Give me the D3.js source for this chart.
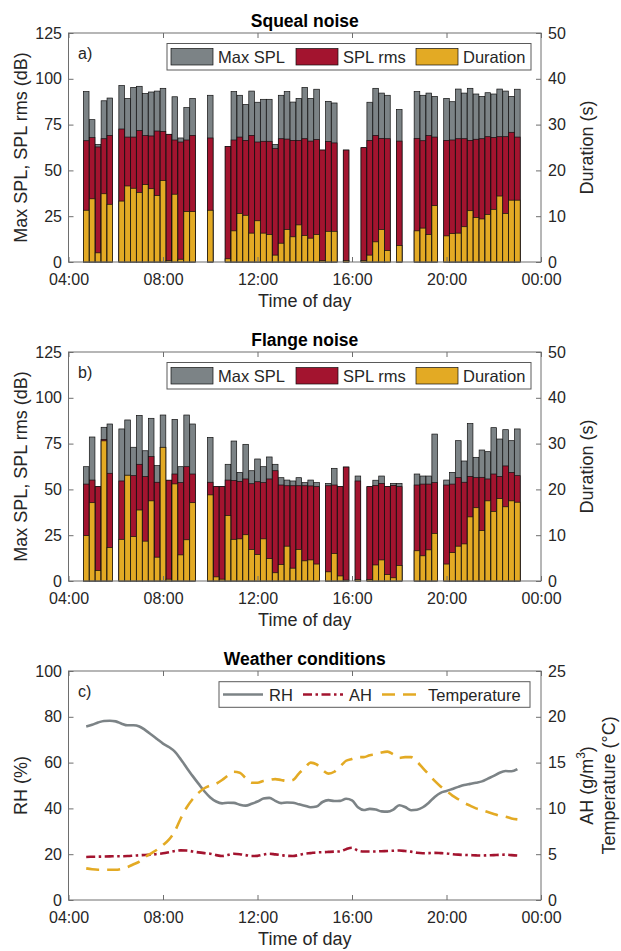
<!DOCTYPE html>
<html>
<head>
<meta charset="utf-8">
<script src="https://cdn.jsdelivr.net/npm/d3@7"></script>
<style>
  body { margin: 0; background: #fff; }
  svg { display: block; font-family: "Liberation Sans", Arial, Helvetica, sans-serif; }
</style>
</head>
<body>
<svg id="chart" width="621" height="951"></svg>
<script>
// ---- data ----
const hourTicks = [4, 8, 12, 16, 20, 24];
const hourLabels = ['04:00', '08:00', '12:00', '16:00', '20:00', '00:00'];

// a) squeal noise
const squealTimes = ['04:45','05:00','05:15','05:30','05:45','06:15','06:30','06:45','07:00','07:15','07:30','07:45','08:00',
  '08:15','08:30','08:45','09:00','09:15','10:00','10:45','11:00','11:15','11:30','11:45','12:00','12:15','12:30','12:45',
  '13:00','13:15','13:30','13:45','14:00','14:15','14:30','14:45','15:00','15:15','15:45','16:30','16:45','17:00','17:15',
  '17:30','18:00','18:45','19:00','19:15','19:30','20:00','20:15','20:30','20:45','21:00','21:15','21:30','21:45','22:00',
  '22:15','22:30','22:45','23:00'];
const squealMax = [93, 77.7, 64.2, 88, 89.5, 96.3, 89.3, 95.3, 95.9, 92, 92.8, 93.3, 94.8, 69.7, 90.2, 67.7, 84.3, 89.3,
  91, 63, 93, 91, 86, 93.3, 87.2, 88.8, 88.8, 64.2, 91, 93, 87.3, 89.3, 95.3, 89.3, 94.3, 61.1, 87.7, 86.8, 61.1, 62.4,
  87.2, 94.8, 92.2, 91, 83.2, 93, 91, 92.2, 90.4, 89.3, 87.5, 94.4, 92.2, 94.8, 91.7, 90.4, 92.4, 91.7, 94.4, 93.3, 90.4, 94.3];
const squealRms = [66.2, 67.9, 62.8, 67.3, 69.1, 72.6, 68.2, 68.2, 71.7, 69, 68.8, 71.5, 71.3, 69.7, 66.6, 65.5, 66.6, 69.1,
  67.7, 63, 66.6, 68.2, 66.4, 69.1, 65.5, 65.9, 65.9, 61.9, 67.3, 67.1, 66.4, 66.4, 67.3, 66, 66.8, 61.1, 65.7, 65, 61.1, 62.4,
  66.4, 69.1, 67.5, 67.3, 66, 67.5, 66.2, 69, 68.2, 66.4, 66.6, 67.3, 67.3, 66.4, 67, 67.3, 68.4, 68, 68.4, 68.4, 70.8, 68.2];
const squealDur = [11.3, 13.8, 2.0, 14.9, 12.6, 13.3, 16.6, 16.1, 15.2, 16.9, 16.0, 14.5, 17.8, 0.3, 14.8, 0.6, 11.0, 11.0,
  11.3, 0.7, 6.8, 10.6, 10.2, 6.3, 9.0, 6.3, 6.0, 1.5, 4.1, 7.1, 5.5, 8.1, 5.8, 5.2, 6.0, 0.3, 6.7, 6.7, 0.3, 0.3,
  1.5, 4.4, 7.1, 2.5, 3.6, 6.8, 7.4, 6.0, 12.3, 5.7, 6.2, 6.3, 7.7, 11.2, 9.7, 9.4, 10.4, 11.5, 14.4, 10.6, 13.5, 13.5];

// b) flange noise
const flangeTimes = ['04:45','05:00','05:15','05:30','05:45','06:15','06:30','06:45','07:00','07:15','07:30','07:45','08:00',
  '08:15','08:30','08:45','09:00','09:15','10:00','10:15','10:30','10:45','11:00','11:15','11:30','11:45','12:00','12:15',
  '12:30','12:45','13:00','13:15','13:30','13:45','14:00','14:15','14:30','15:00','15:15','15:30','15:45','16:15','16:45',
  '17:00','17:15','17:30','17:45','18:00','18:45','19:00','19:15','19:30','20:00','20:15','20:30','20:45','21:00','21:15',
  '21:30','21:45','22:00','22:15','22:30','22:45','23:00'];
const flangeMax = [62.4, 78.6, 51.5, 83.9, 85.7, 83, 87.9, 73, 90.4, 71.1, 88.8, 63, 90.6, 55, 88.2, 62.4, 90.6, 85.7,
  78.4, 51.5, 51.5, 63.7, 76.4, 59.3, 74.6, 60.2, 66.6, 62.4, 67.7, 63.7, 56.4, 55.1, 54.6, 56.4, 53.7, 55.1, 53.7,
  53.3, 61.5, 51.5, 62.2, 57.3, 51.5, 55, 57.3, 51.5, 53.3, 53.3, 58.4, 57.3, 57.3, 80.2,
  55.1, 59.3, 76.6, 65.5, 85.9, 67.5, 71.5, 70.6, 83.7, 77.5, 82.6, 76.6, 83];
const flangeRms = [52.9, 55.1, 51.5, 77.3, 58.8, 54.6, 57.7, 57.5, 63.7, 57, 67.9, 53.9, 72.8, 55, 58.4, 53.7, 62.4, 58.4,
  53.9, 51.5, 51.5, 55.1, 54.8, 54.4, 55.7, 53.1, 54.2, 53.7, 55.7, 60.2, 52.4, 52, 52, 52, 52, 51.9, 51.5,
  52, 52.4, 51.5, 62.2, 54.6, 51.5, 52.2, 53.3, 51.5, 52.2, 51.5, 52.4, 52.9, 52.9, 53.7,
  52.4, 52.9, 56.4, 53.9, 57.1, 56.4, 56.6, 55.7, 58.4, 57.1, 62.8, 59.3, 57.5];
const flangeDur = [9.9, 17.1, 2.3, 30.6, 7.3, 9.1, 23.1, 9.7, 15.5, 8.7, 17.5, 5.2, 29.2, 0.4, 21.2, 5.7, 9.0, 17.1,
  18.8, 0.9, 0.4, 14.3, 9.1, 9.2, 10.1, 6.9, 5.8, 9.2, 4.9, 1.8, 3.6, 7.6, 2.8, 6.9, 4.4, 4.6, 3.7,
  2.0, 6.0, 1.1, 0.2, 0.3, 0.3, 3.5, 4.6, 1.4, 0.7, 3.4, 6.6, 5.5, 6.8, 10.4,
  3.7, 6.2, 7.6, 8.1, 14.0, 16.0, 11.0, 17.5, 15.2, 18.0, 16.2, 17.5, 17.2];

// c) weather conditions (hour of day)
const weatherHours = [4.75, 5, 5.25, 5.5, 5.75, 6, 6.25, 6.5, 6.75, 7, 7.25, 7.5, 7.75, 8, 8.25, 8.5, 8.75, 9, 9.25, 9.5,
  9.75, 10, 10.25, 10.5, 10.75, 11, 11.25, 11.5, 11.75, 12, 12.25, 12.5, 12.75, 13, 13.25, 13.5, 13.75, 14, 14.25, 14.5,
  14.75, 15, 15.25, 15.5, 15.75, 16, 16.25, 16.5, 16.75, 17, 17.25, 17.5, 17.75, 18, 18.25, 18.5, 18.75, 19, 19.25, 19.5,
  19.75, 20, 20.25, 20.5, 20.75, 21, 21.25, 21.5, 21.75, 22, 22.25, 22.5, 22.75, 23];
const rh = [75.8, 76.5, 77.5, 78.2, 78.3, 78.0, 77.0, 76.3, 76.3, 75.8, 74.2, 72.3, 70.3, 68.3, 66.8, 64.8, 61.5, 57.8, 54.2, 50.8,
  47.5, 44.8, 43.0, 42.2, 42.5, 42.4, 41.6, 41.2, 42.0, 43.0, 44.3, 44.6, 43.3, 42.3, 42.6, 42.5, 41.8, 41.2, 40.5, 40.8,
  42.8, 43.6, 43.2, 43.3, 44.2, 43.5, 40.5, 39.3, 39.8, 39.5, 38.7, 38.6, 39.5, 41.4, 40.6, 39.2, 39.4, 40.5, 42.5, 45.0,
  46.8, 47.6, 48.5, 49.4, 50.2, 50.7, 51.2, 51.8, 53.0, 54.2, 55.6, 56.3, 56.2, 57.2];
const ah = [4.7, 4.72, 4.73, 4.75, 4.76, 4.78, 4.78, 4.8, 4.84, 4.88, 4.92, 4.95, 5.02, 5.1, 5.22, 5.35, 5.42, 5.4, 5.3, 5.2,
  5.12, 5.05, 4.9, 4.8, 4.92, 5.05, 5.0, 4.9, 4.8, 4.82, 4.95, 5.05, 4.98, 4.9, 4.82, 4.8, 4.92, 5.05, 5.12, 5.2,
  5.22, 5.25, 5.28, 5.3, 5.55, 5.7, 5.4, 5.3, 5.3, 5.3, 5.33, 5.35, 5.38, 5.4, 5.35, 5.28, 5.15, 5.1, 5.12, 5.15,
  5.12, 5.08, 5.0, 4.95, 4.92, 4.9, 4.87, 4.85, 4.88, 4.9, 4.93, 4.95, 4.9, 4.85];
const temperature = [3.45, 3.35, 3.3, 3.3, 3.3, 3.3, 3.4, 3.6, 3.9, 4.2, 4.7, 5.1, 5.5, 6.0, 6.6, 7.5, 8.9, 10.1, 11.0, 11.7,
  12.2, 12.5, 12.7, 13.1, 13.6, 14.0, 13.9, 13.3, 12.8, 12.8, 13.0, 13.1, 13.2, 13.1, 13.0, 13.1, 13.8, 14.4, 15.0, 14.8,
  14.2, 13.8, 14.0, 14.6, 15.2, 15.4, 15.6, 15.6, 15.8, 15.9, 16.1, 16.2, 15.9, 15.5, 15.6, 15.6, 15.1, 14.4, 13.7, 13.0,
  12.4, 11.9, 11.4, 11.0, 10.6, 10.3, 10.0, 9.8, 9.6, 9.4, 9.2, 9.1, 8.9, 8.8];

// ---- setup ----
const GREY = '#7c8386', RED = '#A3142F', YELLOW = '#E3AA24';
const AXIS = '#6e6e6e', TXT = '#262626';
const plotLeft = 68.5, plotRight = 541, plotH = 229;

const svg = d3.select('#chart');
svg.append('rect').attr('width', 621).attr('height', 951).attr('fill', '#fff');

const x = d3.scaleLinear().domain([4, 24]).range([plotLeft, plotRight]);
const toHours = s => { const p = s.split(':').map(Number); return p[0] + p[1] / 60; };
const cx = (plotLeft + plotRight) / 2;

function styleAxis(sel) {
  sel.select('.domain').remove();
  sel.selectAll('.tick line').attr('stroke', AXIS);
  sel.selectAll('.tick text').attr('fill', TXT).style('font-size', '16px');
}

function frame(top, yL, yR, opts) {
  const bottom = top + plotH;
  const g = svg.append('g');
  g.append('g').attr('transform', `translate(0,${bottom})`)
    .call(d3.axisBottom(x).tickValues(hourTicks).tickFormat((d, i) => hourLabels[i])
      .tickSize(-5).tickSizeOuter(0).tickPadding(11.5))
    .call(styleAxis);
  g.append('g').attr('transform', `translate(0,${top})`)
    .call(d3.axisTop(x).tickValues(hourTicks).tickFormat('').tickSize(-5).tickSizeOuter(0))
    .call(styleAxis);
  g.append('g').attr('transform', `translate(${plotLeft},0)`)
    .call(d3.axisLeft(yL).tickValues(opts.leftTicks).tickSize(-5).tickSizeOuter(0).tickPadding(6.5))
    .call(styleAxis);
  g.append('g').attr('transform', `translate(${plotRight},0)`)
    .call(d3.axisRight(yR).tickValues(opts.rightTicks).tickSize(-5).tickSizeOuter(0).tickPadding(7))
    .call(styleAxis);
  g.append('rect').attr('x', plotLeft).attr('y', top).attr('width', plotRight - plotLeft).attr('height', plotH)
    .attr('fill', 'none').attr('stroke', AXIS).attr('stroke-width', 1);

  g.append('text').attr('x', cx).attr('y', top - 6).attr('text-anchor', 'middle')
    .attr('font-weight', 'bold').attr('font-size', 17.5).attr('fill', '#000').text(opts.title);
  g.append('text').attr('x', cx).attr('y', bottom + 45).attr('text-anchor', 'middle')
    .attr('font-size', 18).attr('fill', TXT).text('Time of day');
  g.append('text').attr('transform', `translate(27,${top + plotH / 2}) rotate(-90)`)
    .attr('text-anchor', 'middle').attr('font-size', 18).attr('fill', TXT).text(opts.leftLabel);
  g.append('text').attr('x', 78).attr('y', top + 25.5).attr('font-size', 16).attr('fill', TXT).text(opts.tag);
  return g;
}

function legendBox(top, x0, x1) {
  svg.append('rect').attr('x', x0).attr('y', top + 10.5).attr('width', x1 - x0).attr('height', 26.5)
    .attr('fill', '#fff').attr('stroke', '#5a5a5a').attr('stroke-width', 1);
}

function barPanel(top, opts, times, maxSpl, rms, dur) {
  const bottom = top + plotH;
  const yL = d3.scaleLinear().domain([0, 125]).range([bottom, top]);
  const yR = d3.scaleLinear().domain([0, 50]).range([bottom, top]);
  const bw = (x(4.25) - x(4)) * 0.95;
  const layers = [[maxSpl, yL, GREY], [rms, yL, RED], [dur, yR, YELLOW]];
  layers.forEach(([vals, y, col]) => {
    svg.append('g').selectAll('rect')
      .data(d3.zip(times, vals))
      .join('rect')
      .attr('x', d => x(toHours(d[0])) - bw / 2)
      .attr('y', d => y(d[1]))
      .attr('width', bw)
      .attr('height', d => y(0) - y(d[1]))
      .attr('fill', col)
      .attr('stroke', '#111')
      .attr('stroke-width', 0.7);
  });
  const g = frame(top, yL, yR, Object.assign({ leftTicks: [0, 25, 50, 75, 100, 125], rightTicks: [0, 10, 20, 30, 40, 50],
    leftLabel: 'Max SPL, SPL rms (dB)' }, opts));
  g.append('text').attr('transform', `translate(593,${top + plotH / 2}) rotate(-90)`)
    .attr('text-anchor', 'middle').attr('font-size', 18).attr('fill', TXT).text('Duration (s)');

  legendBox(top, 167, 531);
  const items = [['Max SPL', GREY, 171], ['SPL rms', RED, 296], ['Duration', YELLOW, 416]];
  items.forEach(([name, col, sx]) => {
    svg.append('rect').attr('x', sx).attr('y', top + 15.5).attr('width', 42).attr('height', 16.5)
      .attr('fill', col).attr('stroke', '#111').attr('stroke-width', 0.7);
    svg.append('text').attr('x', sx + 47).attr('y', top + 30).attr('font-size', 16.5).attr('fill', TXT).text(name);
  });
}

barPanel(33, { title: 'Squeal noise', tag: 'a)' }, squealTimes, squealMax, squealRms, squealDur);
barPanel(352, { title: 'Flange noise', tag: 'b)' }, flangeTimes, flangeMax, flangeRms, flangeDur);

// ---- c) weather ----
(function () {
  const top = 671, bottom = top + plotH;
  const yL = d3.scaleLinear().domain([0, 100]).range([bottom, top]);
  const yR = d3.scaleLinear().domain([0, 25]).range([bottom, top]);
  const series = [
    { vals: rh, y: yL, col: GREY, dash: null },
    { vals: ah, y: yR, col: RED, dash: '9,3.5,2.5,3.5' },
    { vals: temperature, y: yR, col: YELLOW, dash: '13,8' }
  ];
  series.forEach(s => {
    const line = d3.line().x((d, i) => x(weatherHours[i])).y(d => s.y(d)).curve(d3.curveMonotoneX);
    svg.append('path').datum(s.vals).attr('d', line).attr('fill', 'none')
      .attr('stroke', s.col).attr('stroke-width', 2.6).attr('stroke-dasharray', s.dash);
  });
  frame(top, yL, yR, { leftTicks: [0, 20, 40, 60, 80, 100], rightTicks: [0, 5, 10, 15, 20, 25],
    leftLabel: 'RH (%)', title: 'Weather conditions', tag: 'c)' });

  const ahLabel = svg.append('text').attr('transform', `translate(593,${top + plotH / 2}) rotate(-90)`)
    .attr('text-anchor', 'middle').attr('font-size', 18).attr('fill', TXT);
  ahLabel.append('tspan').text('AH (g/m');
  ahLabel.append('tspan').attr('font-size', 12).attr('dy', -8).text('3');
  ahLabel.append('tspan').attr('dy', 8).text(')');
  svg.append('text').attr('transform', `translate(615,${top + plotH / 2}) rotate(-90)`)
    .attr('text-anchor', 'middle').attr('font-size', 18).attr('fill', TXT).text('Temperature (\u00B0C)');

  svg.append('rect').attr('x', 219).attr('y', top + 10.7).attr('width', 311).attr('height', 25.6)
    .attr('fill', '#fff').attr('stroke', '#5a5a5a').attr('stroke-width', 1);
  const items = [['RH', GREY, null, 223], ['AH', RED, '9,3.5,2.5,3.5', 303], ['Temperature', YELLOW, '13,8', 382]];
  items.forEach(([name, col, dash, sx]) => {
    svg.append('line').attr('x1', sx).attr('x2', sx + 40).attr('y1', top + 23.5).attr('y2', top + 23.5)
      .attr('stroke', col).attr('stroke-width', 2.6).attr('stroke-dasharray', dash);
    svg.append('text').attr('x', sx + 46).attr('y', top + 29.5).attr('font-size', 16.5).attr('fill', TXT).text(name);
  });
})();
</script>
</body>
</html>
